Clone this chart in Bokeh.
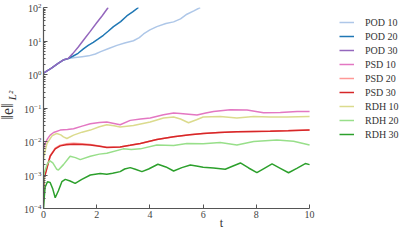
import math
from bokeh.plotting import figure
from bokeh.layouts import row
from bokeh.models import Range1d, FixedTicker, Label, LogTickFormatter
from bokeh.embed import file_html
from bokeh.resources import INLINE

# ---------------- data ----------------
pod10_t = [0, 0.3, 0.55, 0.74, 0.93, 1.2, 1.45, 1.7, 1.95, 2.15, 2.45, 2.76, 3.05, 3.38,
           3.6, 3.76, 4.0, 4.26, 4.6, 4.89, 5.15, 5.39, 5.65, 5.89]
pod10_e = [1.1, 1.55, 2.14, 2.7, 3.0, 3.2, 3.4, 3.6, 4.1, 4.8, 6.0, 7.4, 8.7, 10.2,
           12.6, 16.2, 21.4, 26.9, 33.1, 37.2, 45.7, 63, 79, 100]

pod20_t = [0, 0.3, 0.55, 0.74, 0.93, 1.1, 1.3, 1.5, 1.68, 1.87, 2.06, 2.25, 2.43, 2.63,
           2.9, 3.13, 3.35, 3.57]
pod20_e = [1.1, 1.55, 2.14, 2.7, 3.0, 3.5, 4.3, 5.8, 7.4, 9.1, 11.5, 14.8, 19.5, 26.9,
           38, 56, 74, 100]

pod30_t = [0, 0.3, 0.55, 0.74, 0.93, 1.1, 1.3, 1.5, 1.75, 2.0, 2.2, 2.43]
pod30_e = [1.1, 1.55, 2.14, 2.7, 3.0, 4.2, 6.5, 10.5, 19, 35, 56, 100]

psd10_t = [0, 0.06, 0.15, 0.25, 0.38, 0.63, 0.9, 1.13, 1.45, 1.76, 2.1, 2.38, 2.65, 2.88,
           3.26, 3.65, 4.01, 4.51, 4.89, 5.14, 5.77, 6.1, 6.39, 7.02, 7.65, 8.27, 8.9, 9.53, 10]
psd10_e = [0.0058, 0.0087, 0.012, 0.0155, 0.0186, 0.0219, 0.0229, 0.024, 0.0288, 0.0339,
           0.0372, 0.038, 0.0347, 0.0316, 0.0427, 0.0468, 0.050, 0.063, 0.0708, 0.069,
           0.0617, 0.0708, 0.079, 0.089, 0.087, 0.0724, 0.074, 0.079, 0.079]

psd_t = [0, 0.03, 0.13, 0.25, 0.44, 0.63, 0.85, 1.13, 1.45, 1.76, 2.1, 2.38, 2.88, 3.25,
         3.64, 4.26, 4.89, 5.5, 6.0, 6.6, 7.27, 7.9, 8.52, 9.2, 10]
psd20_e = [0.00025, 0.00085, 0.0017, 0.0038, 0.0063, 0.0078, 0.0085, 0.0088, 0.0086, 0.0082,
           0.0074, 0.0067, 0.0069, 0.0077, 0.0087, 0.0115, 0.0138, 0.0158, 0.0174, 0.0186,
           0.0195, 0.0200, 0.0205, 0.0212, 0.0222]
psd30_e = [0.00025, 0.00083, 0.00162, 0.00363, 0.00603, 0.0074, 0.0080, 0.0083, 0.0082, 0.0079,
           0.0072, 0.0066, 0.0069, 0.0077, 0.0087, 0.0115, 0.0138, 0.0158, 0.0174, 0.0186,
           0.0195, 0.0200, 0.0204, 0.0210, 0.0219]

rdh10_t = [0, 0.03, 0.13, 0.32, 0.5, 0.65, 0.75, 0.88, 1.13, 1.45, 1.76, 2.1, 2.38, 2.65,
           2.88, 3.38, 4.01, 4.51, 4.89, 5.15, 5.45, 5.75, 6.0, 6.64, 7.27, 7.9, 8.52, 9.15, 10]
rdh10_e = [0.003, 0.0041, 0.0087, 0.0148, 0.0174, 0.0158, 0.0138, 0.0123, 0.0155, 0.019,
           0.0219, 0.0275, 0.0316, 0.0295, 0.0269, 0.030, 0.038, 0.050, 0.0537, 0.0468,
           0.0363, 0.0447, 0.0537, 0.056, 0.050, 0.056, 0.0537, 0.0537, 0.056]

rdh20_t = [0, 0.03, 0.13, 0.23, 0.35, 0.5, 0.56, 0.75, 1.0, 1.2, 1.38, 1.76, 2.1, 2.38,
           3.0, 3.3, 3.64, 4.26, 4.89, 5.39, 6.0, 6.64, 7.27, 7.9, 8.77, 9.4, 10]
rdh20_e = [0.0004, 0.00117, 0.00204, 0.00269, 0.00229, 0.00148, 0.00141, 0.00204, 0.00363,
           0.0033, 0.00288, 0.00363, 0.0042, 0.00447, 0.00603, 0.0058, 0.00603, 0.0079,
           0.0076, 0.0087, 0.0085, 0.0093, 0.0079, 0.010, 0.011, 0.0102, 0.0079]

rdh30_t = [0, 0.03, 0.06, 0.15, 0.25, 0.35, 0.44, 0.56, 0.69, 0.82, 1.0, 1.19, 1.44, 1.76,
           2.13, 2.38, 2.6, 2.88, 3.05, 3.26, 3.45, 3.7, 3.95, 4.3, 4.6, 4.89, 5.2, 5.52,
           5.8, 6.0, 6.39, 6.83, 7.1, 7.4, 7.71, 8.02, 8.3, 8.59, 8.9, 9.21, 9.52, 9.84, 10]
rdh30_e = [0.0001, 0.00022, 0.00043, 0.00063, 0.0006, 0.00038, 0.00021, 0.00034, 0.00063,
           0.00074, 0.00066, 0.00056, 0.00074, 0.001, 0.0011, 0.00105, 0.00112, 0.00126,
           0.00151, 0.00166, 0.00148, 0.00126, 0.00151, 0.00209, 0.00174, 0.00132, 0.00166,
           0.002, 0.00182, 0.0017, 0.00162, 0.00148, 0.00182, 0.00229, 0.00162, 0.00117,
           0.00158, 0.00214, 0.00158, 0.00117, 0.00158, 0.00219, 0.00204]

series = [
    ("POD 10", pod10_t, pod10_e, "#aec7e8"),
    ("POD 20", pod20_t, pod20_e, "#1f77b4"),
    ("POD 30", pod30_t, pod30_e, "#9467bd"),
    ("PSD 10", psd10_t, psd10_e, "#e377c2"),
    ("PSD 20", psd_t, psd20_e, "#ff9896"),
    ("PSD 30", psd_t, psd30_e, "#d62728"),
    ("RDH 10", rdh10_t, rdh10_e, "#dbdb8d"),
    ("RDH 20", rdh20_t, rdh20_e, "#98df8a"),
    ("RDH 30", rdh30_t, rdh30_e, "#2ca02c"),
]

x_ticks = [0, 2, 4, 6, 8, 10]
y_ticks = [1e-4, 1e-3, 1e-2, 1e-1, 1e0, 1e1, 1e2]

SERIF = "Liberation Serif"
AXIS_COLOR = "#555555"
TEXT_COLOR = "#333333"

# ---------------- main plot ----------------
# the frame extends to the right so that the legend sits inside it; the x axis is bounded to [0, 10]
p = figure(frame_width=356, frame_height=201,
           min_border_left=26, min_border_right=0,
           min_border_top=7, min_border_bottom=23,
           x_range=Range1d(0, 13.38), y_range=Range1d(1e-4, 1e2),
           y_axis_type="log", output_backend="svg", toolbar_location=None)

p.outline_line_color = None
p.grid.grid_line_color = None
p.background_fill_color = "white"
p.border_fill_color = "white"

for name, t, e, c in series:
    p.line(t, e, line_color=c, line_width=1.5, legend_label=name)

# x axis
xa = p.xaxis[0]
xa.ticker = FixedTicker(ticks=x_ticks)
xa.bounds = (0, 10)
xa.minor_tick_line_color = None
xa.major_tick_in = 4
xa.major_tick_out = 0
xa.axis_line_color = AXIS_COLOR
xa.axis_line_width = 1.2
xa.major_tick_line_color = AXIS_COLOR
xa.major_label_text_font = SERIF
xa.major_label_text_font_size = "10px"
xa.major_label_text_color = "#444444"
xa.major_label_standoff = 2
xa.axis_label = "t"
xa.axis_label_text_font = SERIF
xa.axis_label_text_font_style = "normal"
xa.axis_label_text_font_size = "12px"
xa.axis_label_text_color = TEXT_COLOR
xa.axis_label_standoff = -5

# y axis
minor = [m * 10.0 ** k for k in range(-4, 2) for m in range(2, 10)]
ya = p.yaxis[0]
ya.ticker = FixedTicker(ticks=y_ticks, minor_ticks=minor)
ya.formatter = LogTickFormatter()
ya.major_tick_in = 4
ya.major_tick_out = 0
ya.minor_tick_in = 2
ya.minor_tick_out = 0
ya.axis_line_color = AXIS_COLOR
ya.axis_line_width = 1.2
ya.major_tick_line_color = AXIS_COLOR
ya.minor_tick_line_color = AXIS_COLOR
ya.major_label_text_font = SERIF
ya.major_label_text_font_size = "10px"
ya.major_label_text_color = "#444444"
ya.major_label_standoff = 2

# legend inside the extended frame, to the right of t = 10
lg = p.legend[0]
lg.location = (296, 67)
lg.border_line_color = None
lg.background_fill_alpha = 0
lg.padding = 0
lg.margin = 0
lg.spacing = 0
lg.glyph_width = 15
lg.glyph_height = 14
lg.label_height = 14
lg.label_standoff = 11
lg.label_text_font = SERIF
lg.label_text_font_size = "10px"
lg.label_text_color = TEXT_COLOR

# ---------------- y label strip: ||e||_{L^2} ----------------
yl = figure(width=17, height=231, min_border_left=0, min_border_right=0,
            min_border_top=0, min_border_bottom=0,
            x_range=Range1d(0, 1), y_range=Range1d(0, 1),
            x_axis_location=None, y_axis_location=None,
            output_backend="svg", toolbar_location=None)
yl.outline_line_color = None
yl.grid.grid_line_color = None
yl.add_layout(Label(x=7, y=96, x_units="screen", y_units="screen", text="‖e‖",
                    angle=math.pi / 2, text_align="center", text_baseline="middle",
                    text_font=SERIF, text_font_size="16px", text_color=TEXT_COLOR))
yl.add_layout(Label(x=11, y=112, x_units="screen", y_units="screen", text="L²",
                    angle=math.pi / 2, text_align="center", text_baseline="middle",
                    text_font=SERIF, text_font_style="italic", text_font_size="11px",
                    text_color=TEXT_COLOR))

layout = row(yl, p, spacing=0)
open("out.html", "w").write(file_html(layout, INLINE))
